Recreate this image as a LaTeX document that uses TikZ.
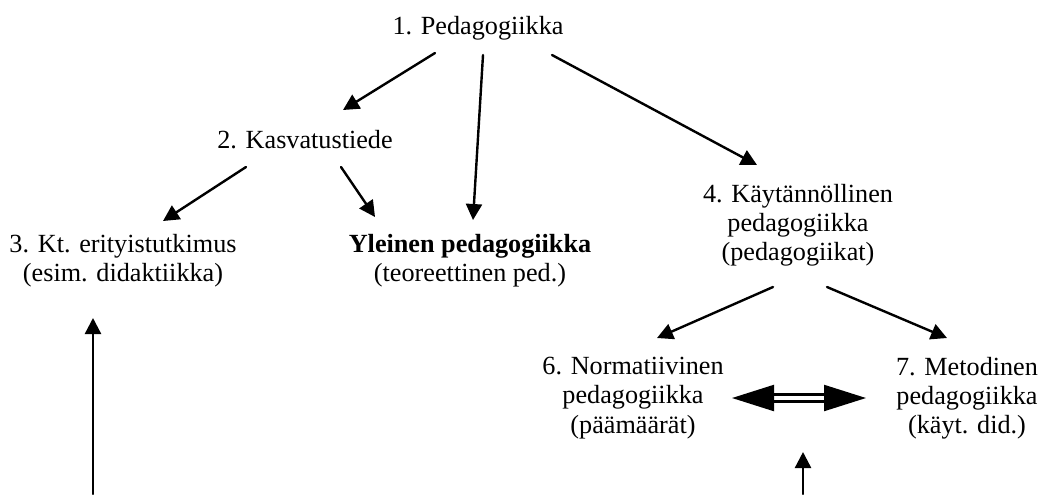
\documentclass[tikz,border=0pt]{standalone}
\usepackage{fontspec}
\setmainfont{Liberation Serif}
\usetikzlibrary{arrows.meta}

\begin{document}
\begin{tikzpicture}[x=0.5pt,y=-0.5pt,line cap=round,line join=round,
  txt/.style={align=center,inner sep=0pt,font=\fontsize{13.1}{14.6}\selectfont},
  arr/.style={line width=1.2pt,-{Triangle[length=8pt,width=8pt]}},
  dbl/.style={line width=1.1pt,double,double distance=2.4pt,
    {Triangle[length=21pt,width=13pt]}-{Triangle[length=21pt,width=13pt]}}]
\useasboundingbox (0,0) rectangle (1042,494);
% tekstit
\node[txt] (ped) at (478,28) {1. Pedagogiikka};
\node[txt] (kas) at (305,140) {2. Kasvatustiede};
\node[txt] (erit) at (123,261) {3. Kt. erityistutkimus\\(esim. didaktiikka)};
\node[txt] (yle) at (470,261) {\textbf{Yleinen pedagogiikka}\\(teoreettinen ped.)};
\node[txt] (kay) at (798,225) {4. Käytännöllinen\\pedagogiikka\\(pedagogiikat)};
\node[txt] (norm) at (633,398) {6. Normatiivinen\\pedagogiikka\\(päämäärät)};
\node[txt] (met) at (967,398) {7. Metodinen\\pedagogiikka\\(käyt. did.)};
\coordinate (b1) at (93,494);
\coordinate (b2) at (803,494);
\coordinate (t2) at (803,452);
% nuolet
\draw[arr] ([shift={(-43,25)}]ped.center) -- ([shift={(38,-30)}]kas.center);
\draw[arr] ([shift={(5,27)}]ped.center) -- ([shift={(3,-41)}]yle.center);
\draw[arr] ([shift={(74,27)}]ped.center) -- ([shift={(-41,-60)}]kay.center);
\draw[arr] ([shift={(-59,27)}]kas.center) -- ([shift={(40,-40)}]erit.center);
\draw[arr] ([shift={(36,27)}]kas.center) -- ([shift={(-95,-44)}]yle.center);
\draw[arr] ([shift={(-25,62)}]kay.center) -- ([shift={(24,-60)}]norm.center);
\draw[arr] ([shift={(29,62)}]kay.center) -- ([shift={(-20,-60)}]met.center);
\draw[dbl] ([shift={(99,0)}]norm.center) -- ([shift={(-101,0)}]met.center);
\draw[arr] (b1) -- ([shift={(-30,57)}]erit.center);
\draw[arr] (b2) -- (t2);
\end{tikzpicture}
\end{document}
